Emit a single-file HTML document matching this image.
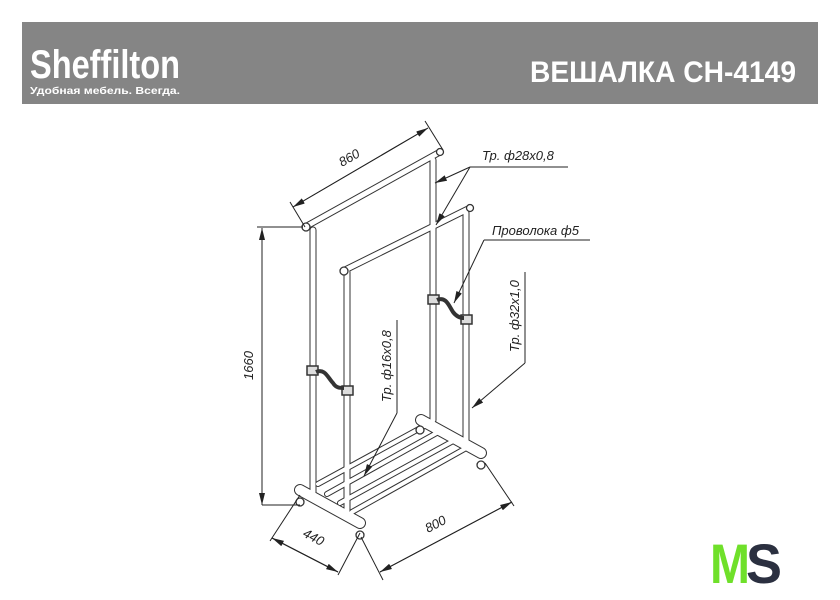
<!DOCTYPE html>
<html><head><meta charset="utf-8"><style>
body{margin:0;background:#fff;width:840px;height:600px;overflow:hidden;font-family:"Liberation Sans",sans-serif}
svg{position:absolute;left:0;top:0}
</style></head><body>
<svg width="840" height="600" viewBox="0 0 840 600" xmlns="http://www.w3.org/2000/svg">
<defs>
<marker id="a" viewBox="0 0 12 6" refX="12" refY="3" markerWidth="12" markerHeight="6" markerUnits="userSpaceOnUse" orient="auto"><path d="M0,0 L12,3 L0,6z" fill="#222"/></marker>
</defs>
<rect x="22" y="22" width="796" height="82" fill="#858585"/>
<text x="30" y="78" font-family="Liberation Sans Narrow, Liberation Sans, sans-serif" font-weight="bold" font-size="40" fill="#fff" textLength="150" lengthAdjust="spacingAndGlyphs">Sheffilton</text>
<text x="30" y="94" font-family="Liberation Sans, 'Noto Sans CJK SC', sans-serif" font-weight="bold" font-size="10.5" fill="#fff" textLength="150" lengthAdjust="spacingAndGlyphs">Удобная мебель. Всегда.</text>
<text x="530" y="82" font-family="Liberation Sans Narrow, Liberation Sans, sans-serif" font-weight="bold" font-size="30" fill="#fff" textLength="266" lengthAdjust="spacingAndGlyphs">ВЕШАЛКА СН-4149</text>

<g stroke-linecap="round">
<!-- tubes: dark outer, white inner -->
<g stroke="#333" stroke-width="7" fill="none">
<line x1="313" y1="230" x2="313" y2="492"/>
<line x1="433" y1="160" x2="433" y2="420"/>
<line x1="305" y1="227" x2="440" y2="152"/>
<line x1="345" y1="270" x2="470" y2="208"/>
<line x1="347" y1="272" x2="347" y2="515"/>
<line x1="466" y1="213" x2="466" y2="448"/>
<line x1="318" y1="484" x2="428" y2="424" stroke-width="6"/>
<line x1="327" y1="494" x2="442" y2="430" stroke-width="6"/>
<line x1="340" y1="503" x2="455" y2="440" stroke-width="6"/>
<line x1="352" y1="512" x2="468" y2="447" stroke-width="6"/>
<line x1="300" y1="490" x2="360" y2="523" stroke-width="12"/>
<line x1="421" y1="420" x2="481" y2="453" stroke-width="12"/>
</g>
<g stroke="#fff" stroke-width="5" fill="none">
<line x1="313" y1="230" x2="313" y2="492"/>
<line x1="433" y1="160" x2="433" y2="420"/>
<line x1="305" y1="227" x2="440" y2="152"/>
<line x1="345" y1="270" x2="470" y2="208"/>
<line x1="347" y1="272" x2="347" y2="515"/>
<line x1="466" y1="213" x2="466" y2="448"/>
<line x1="318" y1="484" x2="428" y2="424" stroke-width="4"/>
<line x1="327" y1="494" x2="442" y2="430" stroke-width="4"/>
<line x1="340" y1="503" x2="455" y2="440" stroke-width="4"/>
<line x1="352" y1="512" x2="468" y2="447" stroke-width="4"/>
<line x1="300" y1="490" x2="360" y2="523" stroke-width="10"/>
<line x1="421" y1="420" x2="481" y2="453" stroke-width="10"/>
</g>
</g>
<g fill="#fff" stroke="#333" stroke-width="1.3">
<circle cx="306" cy="227" r="4"/><circle cx="440" cy="152" r="3.5"/>
<circle cx="344" cy="271" r="4"/><circle cx="470" cy="208" r="3.5"/>
<circle cx="300" cy="502" r="4"/><circle cx="360" cy="535" r="4"/>
<circle cx="420" cy="430" r="4"/><circle cx="481" cy="465" r="4"/>
</g>
<!-- clips -->
<g stroke="#333" stroke-width="1.5" fill="#ddd">
<rect x="307" y="366" width="11" height="9"/><rect x="342" y="386" width="11" height="9"/>
<path d="M316,372 C325,368 328,378 333,383 C336,388 340,388 344,388" fill="none" stroke-width="4"/>
<rect x="428" y="295" width="11" height="9"/><rect x="461" y="315" width="11" height="9"/>
<path d="M437,300 C446,296 449,306 453,312 C456,316 460,318 464,318" fill="none" stroke-width="4"/>
</g>

<!-- dimensions -->
<g stroke="#222" stroke-width="1" fill="none">
<line x1="290" y1="202" x2="305" y2="227"/>
<line x1="425" y1="121" x2="443" y2="150"/>
<line x1="293" y1="207" x2="428" y2="128" marker-end="url(#a)" marker-start="url(#a)" style="marker-start:none"/>
<line x1="428" y1="128" x2="293" y2="207" marker-end="url(#a)"/>
<line x1="257" y1="227" x2="303" y2="227"/>
<line x1="262" y1="505" x2="300" y2="505"/>
<line x1="262" y1="505" x2="262" y2="228" marker-end="url(#a)"/>
<line x1="262" y1="228" x2="262" y2="505" marker-end="url(#a)"/>
<line x1="300" y1="495" x2="270" y2="541"/>
<line x1="360" y1="533" x2="338" y2="575"/>
<line x1="272" y1="538" x2="338" y2="572" marker-end="url(#a)"/>
<line x1="338" y1="572" x2="272" y2="538" marker-end="url(#a)"/>
<line x1="361" y1="537" x2="383" y2="580"/>
<line x1="485" y1="463" x2="514" y2="506"/>
<line x1="380" y1="572" x2="512" y2="502" marker-end="url(#a)"/>
<line x1="512" y1="502" x2="380" y2="572" marker-end="url(#a)"/>
<!-- leaders -->
<line x1="470" y1="167" x2="568" y2="167"/>
<line x1="470" y1="167" x2="435" y2="183" marker-end="url(#a)"/>
<line x1="470" y1="167" x2="436" y2="225" marker-end="url(#a)"/>
<line x1="484" y1="240" x2="590" y2="240"/>
<line x1="484" y1="240" x2="454" y2="303" marker-end="url(#a)"/>
<line x1="525" y1="272" x2="525" y2="363"/>
<line x1="525" y1="363" x2="472" y2="408" marker-end="url(#a)"/>
<line x1="397" y1="320" x2="397" y2="413"/>
<line x1="397" y1="413" x2="364" y2="476" marker-end="url(#a)"/>
</g>
<g font-family="Liberation Sans, sans-serif" font-style="italic" font-size="13" fill="#222">
<text transform="translate(342,167) rotate(-30)">860</text>
<text transform="translate(253,380) rotate(-90)">1660</text>
<text transform="translate(302,536) rotate(28)">440</text>
<text transform="translate(428,533) rotate(-28)">800</text>
<text x="482" y="160">Тр. ф28х0,8</text>
<text x="492" y="235">Проволока ф5</text>
<text transform="translate(519,352) rotate(-90)">Тр. ф32х1,0</text>
<text transform="translate(391,402) rotate(-90)">Тр. ф16х0,8</text>
</g>
<text x="710" y="583" font-family="Liberation Sans, sans-serif" font-weight="bold" font-size="56" fill="#6fe02a" textLength="40" lengthAdjust="spacingAndGlyphs">M</text>
<text x="746" y="583" font-family="Liberation Sans, sans-serif" font-weight="bold" font-size="56" fill="#2b3040" textLength="36" lengthAdjust="spacingAndGlyphs">S</text>
</svg>
</body></html>
